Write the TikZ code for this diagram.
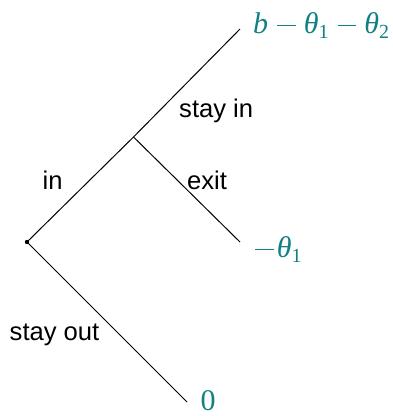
\documentclass[tikz,border=0pt]{standalone}
\usepackage{fontspec}
\setmainfont{Liberation Sans}
\newfontfamily\tms{Liberation Serif}
\definecolor{payoff}{RGB}{16,128,128}
\newcommand{\subsc}[1]{\raisebox{-0.17em}{\fontsize{20}{20}\selectfont\upshape #1}}
\newcommand{\mbar}{\raisebox{0.235em}{\rule{0.62em}{0.045em}}}
\newcommand{\mminus}{\hspace{0.3em}\mbar\hspace{0.27em}}
\begin{document}
\begin{tikzpicture}[x=1pt,y=-1pt,
  edge/.style={line width=1pt,draw=black},
  movelabel/.style={font=\fontsize{25.6}{30}\selectfont,inner sep=0pt,anchor=base west},
  payofflabel/.style={font=\tms\fontsize{30}{36}\selectfont\itshape,text=payoff,inner sep=0pt,anchor=base west}]
\useasboundingbox (0,0) rectangle (393,416);
\coordinate (root) at (27,242);
\coordinate (mid) at (133.5,137);
\coordinate (top) at (240,29);
\coordinate (exitend) at (240,242);
\coordinate (outend) at (187,402);
\draw[edge] (root) -- (mid);
\draw[edge] (mid) -- (top);
\draw[edge] (mid) -- (exitend);
\draw[edge] (root) -- (outend);
\fill (root) circle (2.2);
\node[movelabel] (lin) at (42.5,189) {in};
\node[movelabel] (lstayin) at (179,117) {stay in};
\node[movelabel] (lexit) at (187,189) {exit};
\node[movelabel] (lout) at (9.5,340) {stay out};
\node[payofflabel] (ptop) at (253,33) {b\mminus\textit{θ}\subsc{1}\mminus\textit{θ}\subsc{2}};
\node[payofflabel] (pexit) at (255,257.5) {\mbar\hspace{0.1em}\itshape θ\subsc{1}};
\node[payofflabel] (pout) at (200.5,410) {\upshape 0};
\end{tikzpicture}
\end{document}
